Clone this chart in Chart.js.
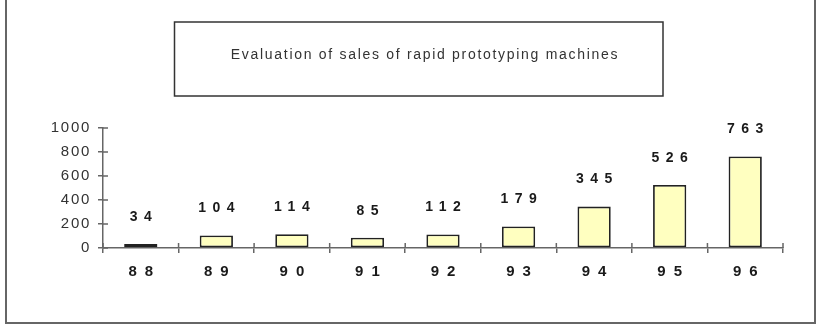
<!DOCTYPE html>
<html>
<head>
<meta charset="utf-8">
<script src="https://cdn.jsdelivr.net/npm/chart.js@4/dist/chart.umd.min.js"></script>
<style>
  html, body { margin: 0; padding: 0; background: #fff; }
  canvas { display: block; }
</style>
</head>
<body>
<canvas id="chart" width="819" height="331"></canvas>
<script>
// data
const years = ['88', '89', '90', '91', '92', '93', '94', '95', '96'];
const sales = [34, 104, 114, 85, 112, 179, 345, 526, 763];
const yMax = 1000;
const yStep = 200;
const titleText = 'Evaluation of sales of rapid prototyping machines';

const FONT = "'Liberation Sans', Arial, sans-serif";

// frame, title box, crossing ticks, bold letter-spaced labels
const decor = {
  id: 'decor',
  beforeDraw(chart) {
    chart.ctx.letterSpacing = '1.7px';   // title
  },
  afterDatasetsDraw(chart) {
    chart.ctx.letterSpacing = '3px'; // y tick labels (scales drawn after, z: 1)
  },
  afterDraw(chart) {
    const ctx = chart.ctx;
    const x = chart.scales.x, y = chart.scales.y;
    const area = chart.chartArea;
    ctx.save();
    ctx.letterSpacing = '0px';

    // outer frame
    ctx.strokeStyle = '#666';
    ctx.lineWidth = 2;
    ctx.strokeRect(6, -4, 809, 327);

    // title box
    ctx.strokeStyle = '#333';
    ctx.lineWidth = 1.5;
    ctx.strokeRect(174.5, 22, 488.5, 74);

    // inner half of the tick marks
    ctx.strokeStyle = '#666';
    ctx.lineWidth = 1.5;
    ctx.beginPath();
    y.ticks.forEach(t => {
      const py = y.getPixelForValue(t.value);
      ctx.moveTo(area.left, py);
      ctx.lineTo(area.left + 5, py);
    });
    const half = (x.getPixelForValue(1) - x.getPixelForValue(0)) / 2;
    for (let i = 0; i <= years.length; i++) {
      const px = x.getPixelForValue(i) - half;
      ctx.moveTo(px, area.bottom);
      ctx.lineTo(px, area.bottom - 5);
    }
    ctx.stroke();

    ctx.fillStyle = '#1a1a1a';
    ctx.textAlign = 'center';
    ctx.textBaseline = 'middle';

    // value labels above bars
    ctx.font = 'bold 14px ' + FONT;
    ctx.letterSpacing = '6.5px';
    chart.getDatasetMeta(0).data.forEach((bar, i) => {
      ctx.fillText(String(sales[i]), bar.x + 3.25, bar.y - 27);
    });

    // category labels
    ctx.font = 'bold 15px ' + FONT;
    ctx.letterSpacing = '8px';
    years.forEach((lab, i) => {
      ctx.fillText(lab, x.getPixelForValue(i) + 4, area.bottom + 23.5);
    });
    ctx.restore();
  }
};

new Chart(document.getElementById('chart'), {
  type: 'bar',
  data: {
    labels: years,
    datasets: [{
      data: sales,
      backgroundColor: '#FFFFC0',
      borderColor: '#222',
      borderWidth: 1.8,
      borderSkipped: false,
      barPercentage: 0.44,
      categoryPercentage: 1
    }]
  },
  options: {
    responsive: false,
    animation: false,
    events: [],
    layout: { padding: { top: 0, left: 36, right: 5, bottom: 0 } },
    plugins: {
      legend: { display: false },
      tooltip: { enabled: false },
      title: {
        display: true,
        text: titleText,
        color: '#333',
        font: { family: FONT, size: 14, weight: 'normal', lineHeight: 1.2 },
        padding: { top: 47, bottom: 64.2 }
      }
    },
    scales: {
      x: {
        z: 1,
        grid: {
          offset: true,
          drawOnChartArea: false,
          drawTicks: true,
          tickLength: 5,
          color: '#666',
          lineWidth: 1.5
        },
        border: { display: true, color: '#666', width: 1.5 },
        ticks: { display: false },
        afterFit(scale) { scale.height = 83; }
      },
      y: {
        z: 1,
        min: 0,
        max: yMax,
        grid: {
          drawOnChartArea: false,
          drawTicks: true,
          tickLength: 5,
          color: '#666',
          lineWidth: 1.5
        },
        border: { display: true, color: '#666', width: 1.5 },
        ticks: {
          stepSize: yStep,
          padding: 7,
          color: '#333',
          font: { family: FONT, size: 15 },
          callback: v => String(v)
        },
        afterFit(scale) { scale.width = 67; }
      },
      // empty right-hand strip so the chart area ends where the reference's does
      pad: {
        type: 'linear',
        position: 'right',
        grid: { display: false },
        border: { display: false },
        ticks: { display: false },
        afterFit(scale) { scale.width = 31; }
      }
    }
  },
  plugins: [decor]
});
</script>
</body>
</html>
